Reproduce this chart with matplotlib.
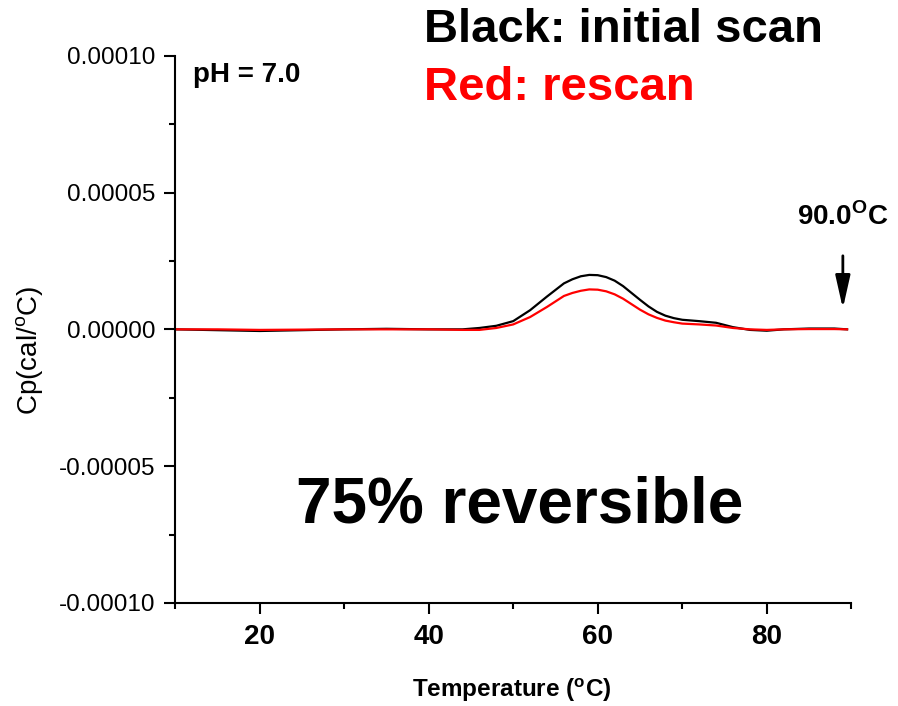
import matplotlib
matplotlib.use("Agg")
import matplotlib.pyplot as plt
from matplotlib.ticker import MultipleLocator, FormatStrFormatter
import numpy as np

# DSC scan, Cp in units of 1e-5 cal/oC
temp = [10, 15, 20, 25, 30, 35, 40, 44, 46, 48, 50, 52, 54, 56, 57, 58, 59, 60,
        61, 62, 63, 64, 65, 66, 67, 68, 69, 70, 72, 74, 76, 78, 80, 82, 85, 88, 89.5]
cp_initial = [0.0, -0.03, -0.06, -0.03, 0.0, 0.02, 0.0, 0.0, 0.05, 0.13, 0.30, 0.70,
              1.20, 1.68, 1.83, 1.94, 1.99, 1.98, 1.91, 1.78, 1.58, 1.33, 1.08, 0.84,
              0.64, 0.50, 0.41, 0.35, 0.30, 0.24, 0.08, -0.02, -0.05, 0.0, 0.03, 0.03, 0.0]
cp_rescan = [0.0, 0.0, -0.02, -0.01, 0.0, 0.0, 0.0, -0.02, -0.02, 0.05, 0.18, 0.45,
             0.82, 1.22, 1.33, 1.41, 1.46, 1.45, 1.39, 1.28, 1.12, 0.92, 0.72, 0.55,
             0.42, 0.32, 0.26, 0.21, 0.18, 0.14, 0.05, 0.0, -0.02, 0.0, 0.01, 0.01, 0.0]

temp = np.array(temp)
cp_initial = np.array(cp_initial) * 1e-5
cp_rescan = np.array(cp_rescan) * 1e-5

plt.rcParams['font.family'] = ['Liberation Sans', 'DejaVu Sans']
plt.rcParams['mathtext.fontset'] = 'custom'
plt.rcParams['mathtext.rm'] = 'Liberation Sans'
plt.rcParams['mathtext.bf'] = 'Liberation Sans:bold'

fig = plt.figure(figsize=(8.98, 7.06), dpi=100)
ax = fig.add_axes([0.195, 0.146, 0.753, 0.775])

ax.plot(temp, cp_initial, color='black', lw=1.6)
ax.plot(temp, cp_rescan, color='red', lw=1.6)

ax.set_xlim(10, 90)
ax.set_ylim(-0.0001, 0.0001)

for s in ['top', 'right']:
    ax.spines[s].set_visible(False)
for s in ['left', 'bottom']:
    ax.spines[s].set_linewidth(1.5)

ax.xaxis.set_major_locator(MultipleLocator(20))
ax.xaxis.set_minor_locator(MultipleLocator(10))
ax.yaxis.set_major_locator(MultipleLocator(0.00005))
ax.yaxis.set_minor_locator(MultipleLocator(0.000025))
ax.yaxis.set_major_formatter(FormatStrFormatter('%.5f'))
ax.tick_params(which='major', direction='out', length=8, width=1.5)
ax.tick_params(which='minor', direction='out', length=4.5, width=1.5)
ax.tick_params(axis='y', labelsize=17.5, pad=6)
ax.tick_params(axis='x', labelsize=20, pad=7)
ax.set_xticks([20, 40, 60, 80])
for lbl in ax.get_xticklabels():
    lbl.set_fontweight('bold')

ax.set_xlabel(r'Temperature ($^\mathbf{o}$C)', fontsize=17.5, fontweight='bold')
ax.xaxis.set_label_coords(0.4985, -0.159)
ax.xaxis.label.set_va('center')
ax.set_ylabel(r'Cp(cal/$^\mathrm{o}$C)', fontsize=20)
ax.yaxis.set_label_coords(-0.2145, 0.4625)
ax.yaxis.label.set_va('center')

ax.text(0.026, 0.952, 'pH = 7.0', transform=ax.transAxes, fontsize=20,
        fontweight='bold', va='baseline', ha='left')
fig.text(424 / 898, 1 - 42 / 706, 'Black: initial scan', fontsize=34,
         fontweight='bold', va='baseline', ha='left')
fig.text(424 / 898, 1 - 100 / 706, 'Red: rescan', fontsize=34,
         fontweight='bold', color='red', va='baseline', ha='left')
ax.text(50.8, -0.0000705, '75% reversible', fontsize=46, fontweight='bold',
        ha='center', va='baseline')

ax.annotate('', xy=(89, 0.0000066), xytext=(89, 0.0000279),
            arrowprops=dict(arrowstyle='-|>,head_length=2.0,head_width=0.45',
                            color='black', lw=2))
ax.text(89, 0.0000380, r'90.0$^\mathbf{O}$C', fontsize=20, fontweight='bold',
        ha='center', va='baseline')

fig.savefig('out.png', dpi=100)
